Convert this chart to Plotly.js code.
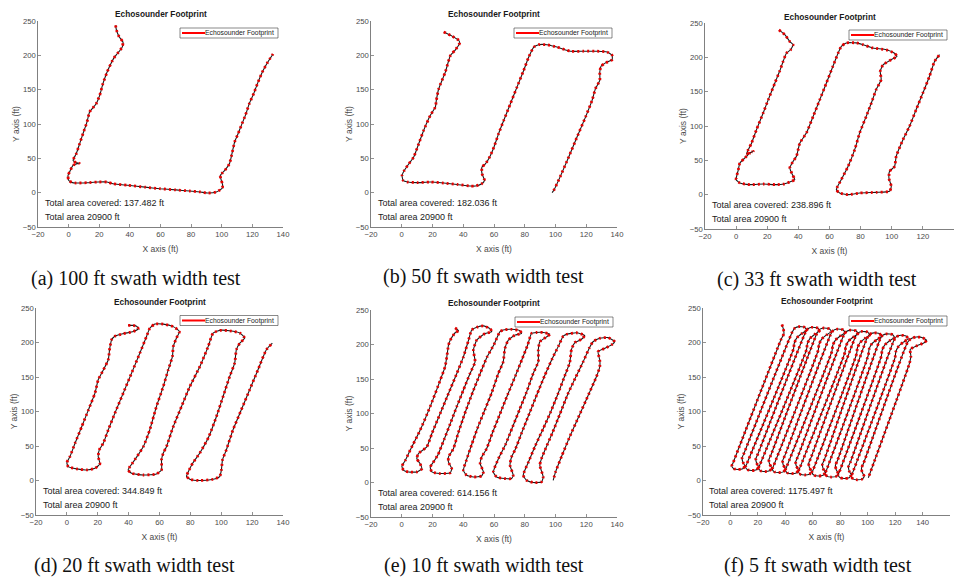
<!DOCTYPE html>
<html>
<head>
<meta charset="utf-8">
<script src="https://cdn.plot.ly/plotly-3.0.1.min.js"></script>
<style>html,body{margin:0;padding:0;background:#fff}#chart{width:954px;height:578px}</style>
</head>
<body>
<div id="chart"></div>
<script>
// ---------------- DATA ----------------
// (a) 100 ft swath width test
const pathXa = [30.7,31.2,33,35.5,35,32,29.5,28.2,25,22.4,20.3,18,13.7,12,9.4,7.2,5,2.9,5,7,3,1,-0.4,0,2,5,12,19.2,25,29,38.8,50,59.5,70,79,86,91,96.5,100.4,100.5,99.7,99,100.5,102,105,106.5,108.4,110.5,112.8,115.5,118,121,123.7,127,130,133.5];
const pathYa = [243.7,237,227,219.4,212,203,196,190.6,175,158.7,141.7,129.6,117.5,103,86,71.4,56.8,47,43.5,43,40,32,25,18,15,14,14.5,15.5,15.5,13,10.7,8,5.8,4,2.4,1,-0.5,1,6.8,12,18,25,29,32.5,42,55,73.8,85,98,113,129.6,145,161,178,190,202];
// (b) 50 ft swath width test
const pathXb = [27.3,32.7,37,37.7,34.9,31.7,28.4,24,22.5,21.9,18.6,14.3,11,7.8,4.6,1.7,0.2,0.9,3.9,10,18.6,27.3,36,44.7,48,52,53.8,52.2,52.2,54.4,57.2,60,63,66.3,70.7,75,79.3,82.6,85.9,89,94.5,101,109.7,118.4,127,133.5,136.8,136.8,132.5,129.6,128.8,128.8,126,123.8,119.5,114,108.6,103,98.9,97.8];
const pathYb = [234,228,222,218,208,200,176,151,134.5,125,112.6,91,71,52,42,32.5,25,18,15.5,14.6,15.5,14,12,9.7,9.7,13,18,27.7,37.4,42,52,66.5,86,105,129.6,154,178,197.6,212,215.5,215.5,212,206,206,206,205,200,193.7,189,184,175.7,163.6,151.5,134.5,110,81,52,23,3.4,0];
// (c) 33 ft swath width test
const pathXc = [27.5,31.3,34.5,36.6,35,32.3,30.2,28,24.9,20.6,17.4,13.1,9.9,7.8,6.7,11,8.5,5.6,2.4,1.4,0,2.4,8.9,17.4,26,30.6,35.6,37.7,36.2,34.5,36.6,38.8,40.9,45.2,49.5,53.7,58,62.2,65.5,67.6,70.8,77.3,81.5,87.9,96.5,101.8,103.3,99.7,94.4,92.6,93.2,90,86.9,83.6,79.4,76.2,71.9,67.6,64.4,66.5,71.9,79.4,90,98.6,99.7,98.2,98.6,101.8,102.9,107.2,111.4,115.7,120,124.2,127.5,130.7];
const pathYc = [240,233,223,218.4,211,206,194,180,162.6,138,119,94.7,75,65.5,59.7,63,60,53.4,46,36,22,17,14.6,15.5,14.6,15.5,19.4,22,29,39,48.5,56,75,90,114,138,162.6,187,206,216,221,221,218.4,213.6,211,206,201.5,196.6,189,179.6,167.5,153,133.5,114,90,65.5,41,22,7.3,2.4,0,2.4,3.4,4.9,12,24,34,41,56,80,99.5,124,148,172,194,204];
// (d) 20 ft swath width test
const pathXd = [39.7,43,45.5,46.2,43,36.5,31.1,29,27.8,26.8,23.6,20.3,18.2,13.9,9.6,5.3,2,0,0.9,6.3,12.8,18.2,21.4,20.3,21,23.6,26.8,31.1,36.5,41.9,47.3,51.6,53.8,57,62.4,68.9,72.9,71,68.9,68.4,65.6,62.4,58,53.7,49.5,44,39.7,41.9,49.5,58,61.3,61.3,62.4,64.5,68.9,74.2,79.6,86.1,91.5,94.7,99,105.5,112,115.2,112,109.8,108.7,105.5,101.2,96.9,92,86,81.5,78.5,77.5,80,86.1,94.7,99,100.1,100.8,103.3,107.6,113,118.4,123.8,129.2,133.1];
const pathYd = [224.8,224.8,223,219.5,216,212.7,209,204,192,175,160,146,126.6,102,78,54,34.7,26,20,16.8,15.3,17.7,24,34.7,44.4,54,73.4,97.6,126.6,155.6,184.7,208.8,221,226.7,226.7,223,216,206.5,194,180,160,136,107,73.4,49,30,15.3,10.5,8,9.5,15.3,30,39.5,49,78,107,136,165,194,213.7,217.6,217,213.7,206.5,199,189.6,170,151,121.8,92.8,63.8,39.5,25,12,6,1.5,0,1.8,5.7,15.3,30,44.4,73.4,102.5,131.5,160.5,189.5,199];
// (e) 10 ft swath width test
const pathXe = [34.7,36.9,34.7,31.5,30.4,29.3,28.2,25,18.5,12,5.5,2.3,0.1,1.2,4.4,9.8,13.1,11.9,9.8,10.9,16.3,
  19.6,25,30.4,35.8,40.1,43.4,45.5,48.8,53.1,57.4,58.5,54.2,48.8,46.6,47.7,44.4,
  40.1,35.8,31.5,27.5,23.5,19.5,18.5,19.6,25,31.5,32.5,30.4,30.4,33.6,
  36.5,41,46,51,55.5,60,63.9,66,71.4,76.8,77.9,73.6,69.3,67.1,66,62.8,
  58.5,54,49.5,45.5,42,40.1,42.2,46.6,52,53.1,51,52,55.2,
  59,64,69,74,78.5,82,84.4,87.7,92,96.3,94.2,89.8,88.8,88.8,85.5,
  81,76.5,72,67.5,63,59.6,61.7,67.1,71.4,72.5,70.4,71.4,73.6,
  78,83,88,93,98,102,105,107.1,113.6,119,116.9,112.6,110.4,109.3,106.1,
  101.5,97,92,87,82.5,79,81.2,85.5,90.9,92,89.8,90.9,93.1,
  98,103,108,113,118,122,124.4,128.8,134.2,138.5,136.4,132,127.7,128.8,128.8,126.6,
  121,115,109,104,100,98.5];
const pathYe = [224,220,217,206,199,182,168,148,110,76,47,32,23.5,17.7,15.3,15.3,20,27.4,34.7,42,51.6,
  71,100,129,158,182,206,221,225,227,223,218.5,216,206.5,192,175,158,
  134,110,85,62,40,26,22.6,15.3,13,14,20,29.4,37,49,
  70,100,130,158,182,200,218.5,221,222,220,216,213.6,206.3,194.3,175,158,
  130,105,80,55,32,17.7,10.5,8,9.5,15.3,27.4,37,49,
  72,100,128,155,180,200,216,217.4,217.4,215,211,204,192,175,158,
  130,105,80,55,35,15.3,8,5.7,5.7,10.5,25,37,46.8,
  72,100,128,155,180,198,212,214.7,217,213,207.6,202.8,193,174,155,
  128,103,78,54,30,10.5,3.2,0,0.8,8,25,34.7,46.8,
  72,100,128,152,175,195,204,209,210,204,199.5,194.4,189.6,177.5,167.8,153.3,
  125,95,65,38,15,3];
// (f) 5 ft swath width test
const pathXf = [37.5,38.5,39,37,
  2,1,2.5,5.5,9,10.5,9,8.5,10,
  45,47,50,54,55.5,52,48.5,46.5,46,
  12,11,12.5,15.5,19,20.5,19,18.5,20,
  54.5,56.5,59.5,63.5,65,61.5,58,56,55.5,
  21.5,20.5,22,25,28.5,30,28.5,28,29.5,
  63,65,68,72,73.5,70,66.5,64.5,64,
  31.5,30.5,32,35,38.5,40,38.5,38,39.5,
  73,75,78,82,83.5,80,76.5,74.5,74,
  41,40,41.5,44.5,48,49.5,48,47.5,49,
  82.5,84.5,87.5,91.5,93,89.5,86,84,83.5,
  50.5,49.5,51,54,57.5,59,57.5,57,58.5,
  91,93,96,100,101.5,98,94.5,92.5,92,
  60.5,59.5,61,64,67.5,69,67.5,67,68.5,
  99.5,101.5,104.5,108.5,110,106.5,103,101,100.5,
  70,69,70.5,73.5,77,78.5,77,76.5,78,
  109,111,114,118,119.5,116,112.5,110.5,110,
  79.5,78.5,80,83,86.5,88,86.5,86,87.5,
  119,121,124,128,129.5,126,122.5,120.5,120,
  89,88,89.5,92.5,96,97.5,96,95.5,97,
  129,131.5,135.5,140,143,140.5,135.5,131,131.5,130.5,
  100.5];
const pathYf = [226,220,213,205,
  26,21,17,16,17,21,27,33,40,
  215,221,223,222,218,213,207,199,191,
  24.5,19.5,15.5,14.5,15.5,19.5,25.5,31.5,38.5,
  214,220,222,221,217,212,206,198,190,
  23,18,14,13,14,18,24,30,37,
  213,219,221,220,216,211,205,197,189,
  21.5,16.5,12.5,11.5,12.5,16.5,22.5,28.5,35.5,
  211.5,217.5,219.5,218.5,214.5,209.5,203.5,195.5,187.5,
  20,15,11,10,11,15,21,27,34,
  210,216,218,217,213,208,202,194,186,
  18,13,9,8,9,13,19,25,32,
  208,214,216,215,211,206,200,192,184,
  16.5,11.5,7.5,6.5,7.5,11.5,17.5,23.5,30.5,
  206,212,214,213,209,204,198,190,182,
  15,10,6,5,6,10,16,22,29,
  204.5,210.5,212.5,211.5,207.5,202.5,196.5,188.5,180.5,
  13,8,4,3,4,8,14,20,27,
  202.5,208.5,210.5,209.5,205.5,200.5,194.5,186.5,178.5,
  11,6,2,1,2,6,12,18,25,
  200,205.5,208,207,203,199,195,190,180,170,
  4];

const seriesName = 'Echosounder Footprint';
const coveredArea = [137.482, 182.036, 238.896, 344.849, 614.156, 1175.497];
const totalArea = [20900, 20900, 20900, 20900, 20900, 20900];
const captions = ['(a) 100 ft swath width test', '(b) 50 ft swath width test', '(c) 33 ft swath width test',
                  '(d) 20 ft swath width test', '(e) 10 ft swath width test', '(f) 5 ft swath width test'];
const xTickMax = [140, 140, 140, 140, 140, 160];

const pathsX = [pathXa, pathXb, pathXc, pathXd, pathXe, pathXf];
const pathsY = [pathYa, pathYb, pathYc, pathYd, pathYe, pathYf];

// ---------------- LAYOUT (pixel positions) ----------------
const W = 954, H = 578;
const FONT = 'Liberation Sans, Arial, Helvetica, sans-serif';
const SERIF = 'Liberation Serif, Times New Roman, serif';
const AX = '#4a4a4a';
const boxes = [ // left, right, top, bottom (px)
  [38, 283, 21, 227], [371, 617, 21, 227], [705, 954, 23, 229],
  [36, 283, 308, 515], [371, 617, 310, 517], [703, 950, 308, 515]
];
const legendPos = [[278, 33], [612, 33], [947, 35], [278, 320.5], [613, 322], [947, 321]]; // right edge, centre y
const LEG_W = 98, LEG_H = 10;
const titleY = [14, 14, 17, 302, 303, 301];
const captionPos = [[136, 278], [484, 276], [817, 279], [134, 565], [484, 565], [818, 565]];
const noteX = -17, noteY1 = -15, noteY2 = -35;

const traces = [];
const layout = {
  width: W, height: H, margin: {l: 0, r: 0, t: 0, b: 0},
  paper_bgcolor: '#fff', plot_bgcolor: '#fff',
  font: {family: FONT, color: '#262626'},
  showlegend: false, annotations: [], shapes: []
};
const px = v => v / W, py = v => 1 - v / H;

pathsX.forEach((xs, i) => {
  const s = i === 0 ? '' : String(i + 1);
  const common = {x: xs, y: pathsY[i], xaxis: 'x' + s, yaxis: 'y' + s, mode: 'lines', hoverinfo: 'skip',
                  name: seriesName, showlegend: false};
  traces.push(Object.assign({}, common, {line: {color: '#1a1a1a', width: 1.1, shape: 'spline', smoothing: 0.5}}));
  traces.push(Object.assign({}, common, {line: {color: '#e60000', width: 2.8, dash: '2px,3px', shape: 'spline', smoothing: 0.5}}));

  const [l, r, t, b] = boxes[i];
  layout['xaxis' + s] = {
    domain: [px(l), px(r)], anchor: 'y' + s, range: [-20, xTickMax[i]], tick0: 0, dtick: 20,
    ticks: 'inside', ticklen: 3, tickwidth: 0.6, tickcolor: AX, showline: true, linecolor: AX, linewidth: 0.7,
    zeroline: false, showgrid: false, tickfont: {size: 7.7, color: AX, family: FONT},
    title: {text: 'X axis (ft)', font: {size: 8.5, color: AX, family: FONT}, standoff: 7},
    automargin: false, fixedrange: true
  };
  layout['yaxis' + s] = {
    domain: [py(b), py(t)], anchor: 'x' + s, range: [-50, 250], tick0: 0, dtick: 50,
    ticks: 'inside', ticklen: 3, tickwidth: 0.6, tickcolor: AX, showline: true, linecolor: AX, linewidth: 0.7,
    zeroline: false, showgrid: false, tickfont: {size: 7.7, color: AX, family: FONT},
    title: {text: 'Y axis (ft)', font: {size: 8.5, color: AX, family: FONT}, standoff: 1},
    automargin: false, fixedrange: true
  };

  // legend box (MATLAB style): white box, red key line, label
  const [lr, lc] = legendPos[i];
  layout.shapes.push({type: 'rect', xref: 'paper', yref: 'paper', layer: 'above',
    x0: px(lr - LEG_W), x1: px(lr), y0: py(lc + LEG_H / 2), y1: py(lc - LEG_H / 2),
    fillcolor: '#fff', line: {color: '#3a3a3a', width: 0.6}});
  layout.shapes.push({type: 'line', xref: 'paper', yref: 'paper', layer: 'above',
    x0: px(lr - 96), x1: px(lr - 73), y0: py(lc), y1: py(lc), line: {color: '#ff0000', width: 2}});
  layout.annotations.push({xref: 'paper', yref: 'paper', x: px(lr - 2), y: py(lc), xanchor: 'right', yanchor: 'middle',
    text: seriesName, showarrow: false, font: {size: 6.8, color: '#222', family: FONT}});

  layout.annotations.push({
    xref: 'paper', yref: 'paper', x: px((l + r) / 2), y: py(titleY[i]), xanchor: 'center', yanchor: 'middle',
    text: '<b>Echosounder Footprint</b>', showarrow: false, font: {size: 8.3, color: '#1a1a1a', family: FONT}
  });
  layout.annotations.push({
    xref: 'x' + s, yref: 'y' + s, x: noteX, y: noteY1, xanchor: 'left', yanchor: 'middle', showarrow: false,
    text: 'Total area covered: ' + coveredArea[i].toFixed(3) + ' ft', font: {size: 9, color: '#1a1a1a', family: FONT}
  });
  layout.annotations.push({
    xref: 'x' + s, yref: 'y' + s, x: noteX, y: noteY2, xanchor: 'left', yanchor: 'middle', showarrow: false,
    text: 'Total area ' + totalArea[i] + ' ft', font: {size: 9, color: '#1a1a1a', family: FONT}
  });
  layout.annotations.push({
    xref: 'paper', yref: 'paper', x: px(captionPos[i][0]), y: py(captionPos[i][1]),
    xanchor: 'center', yanchor: 'middle', showarrow: false, text: captions[i],
    font: {size: 20, color: '#111', family: SERIF}
  });
});

Plotly.newPlot('chart', traces, layout, {staticPlot: true, displayModeBar: false});
</script>
</body>
</html>
